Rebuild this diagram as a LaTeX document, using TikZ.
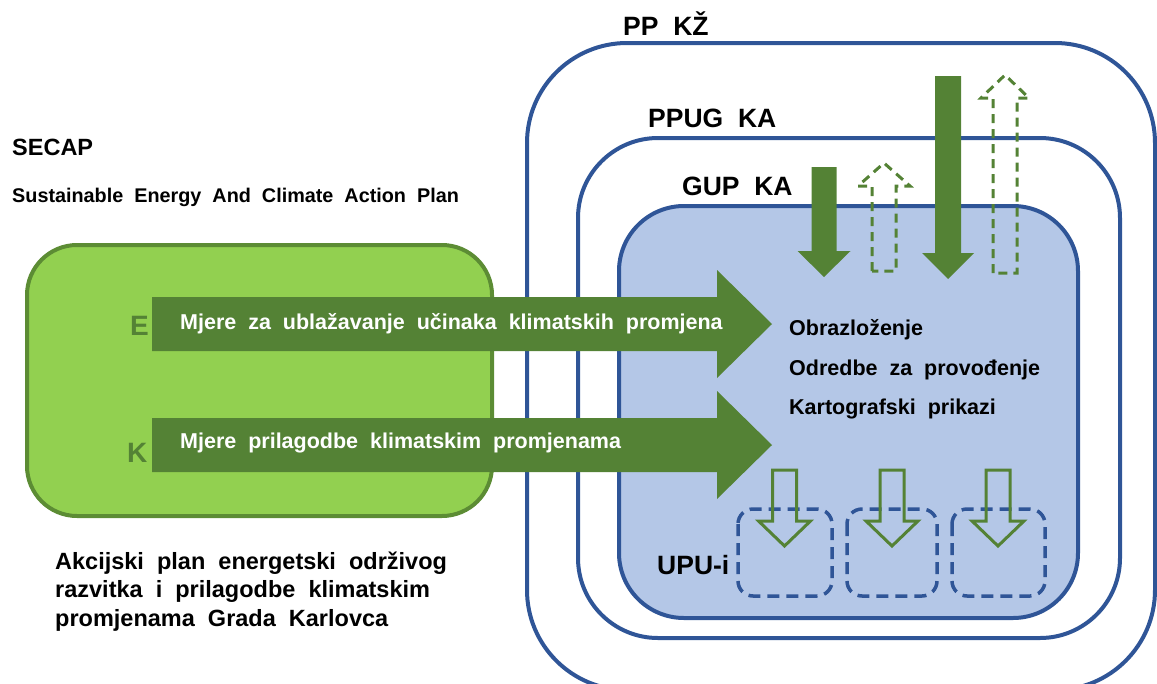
\documentclass[tikz,border=0pt]{standalone}
\usepackage{fontspec}
\setmainfont{Liberation Sans}[WordSpace=2]
\usetikzlibrary{positioning}

\definecolor{kablue}{RGB}{47,85,151}
\definecolor{kafill}{RGB}{180,199,231}
\definecolor{kagreen}{RGB}{84,130,53}
\definecolor{kalime}{RGB}{146,208,80}
\definecolor{kaedge}{RGB}{92,140,52}

\begin{document}
\begin{tikzpicture}[x=1pt, y=-1pt]
        \tikzstyle{plan}=[draw=kablue, line width=4pt]
        \tikzstyle{upu}=[draw=kablue, line width=3.5pt, dash pattern=on 12pt off 7pt, rounded corners=15pt]
        \tikzstyle{hollow}=[draw=kagreen, line width=3pt, line join=miter]
        \tikzstyle{dashy}=[hollow, dash pattern=on 9pt off 6pt]
        \tikzstyle{lbl}=[inner sep=0pt, anchor=base west]
        \tikzstyle{big}=[lbl, font=\fontsize{26.5}{30}\selectfont\bfseries]
        \tikzstyle{mid}=[lbl, font=\fontsize{21.5}{26}\selectfont\bfseries]
        \tikzstyle{sml}=[lbl, font=\fontsize{19.8}{24}\selectfont\bfseries]
        \tikzstyle{akc}=[lbl, font=\fontsize{23.5}{28}\selectfont\bfseries]
        \tikzstyle{arr}=[lbl, text=white, font=\fontsize{21.5}{26}\selectfont\bfseries]
        \tikzstyle{ek}=[lbl, text=kagreen, font=\fontsize{28}{32}\selectfont\bfseries]

        \useasboundingbox (0,0) rectangle (1157,683);

        % plan boxes
        \draw[plan, rounded corners=100pt] (527,43) rectangle (1155,690);
        \draw[plan, rounded corners=80pt] (578,138) rectangle (1120,638);
        \draw[plan, fill=kafill, rounded corners=65pt] (619,206) rectangle (1078,618);

        % SECAP box
        \draw[draw=kaedge, line width=4pt, fill=kalime, rounded corners=50pt] (27,245) rectangle (492,516);

        % measures
        \fill[kagreen] (152,297) -- (717,297) -- (717,270) -- (772,324) -- (717,378) -- (717,351) -- (152,351) -- cycle;
        \fill[kagreen] (152,418) -- (717,418) -- (717,391) -- (772,445) -- (717,499) -- (717,472) -- (152,472) -- cycle;

        % top-down and bottom-up
        \fill[kagreen] (811.5,167) -- (836.5,167) -- (836.5,251) -- (850.5,251) -- (824,277) -- (797.5,251) -- (811.5,251) -- cycle;
        \fill[kagreen] (935,76) -- (961,76) -- (961,253) -- (974,253) -- (948,279) -- (922,253) -- (935,253) -- cycle;
        \draw[dashy] (872,271) -- (872,186) -- (858,186) -- (884,163) -- (910,186) -- (896,186) -- (896,271) -- cycle;
        \draw[dashy] (993,273) -- (993,98) -- (981,98) -- (1005,75) -- (1029,98) -- (1017,98) -- (1017,273) -- cycle;

        % UPU-i
        \draw[upu] (738,509) rectangle (832,596);
        \draw[upu] (847,509) rectangle (937,596);
        \draw[upu] (952,509) rectangle (1045,596);
        \draw[hollow] (772.5,470) -- (796.5,470) -- (796.5,521) -- (810.5,521) -- (784.5,546) -- (758.5,521) -- (772.5,521) -- cycle;
        \draw[hollow] (880,470) -- (904,470) -- (904,521) -- (918,521) -- (892,546) -- (866,521) -- (880,521) -- cycle;
        \draw[hollow] (986,470) -- (1010,470) -- (1010,521) -- (1024,521) -- (998,546) -- (972,521) -- (986,521) -- cycle;

        % texts
        \node (ppkz) [big] at (623,35) {PP KŽ};
        \node (ppug) [big] at (648,127) {PPUG KA};
        \node (gup) [big] at (682,195) {GUP KA};
        \node (upui) [big] at (657,574) {UPU-i};

        \node (secap) [lbl, font=\fontsize{23.5}{28}\selectfont\bfseries] at (12,155) {SECAP};
        \node (secapfull) [sml, below=47pt of secap.base west, lbl] {Sustainable Energy And Climate Action Plan};

        \node (e) [ek] at (130,335) {E};
        \node (k) [ek] at (127,462) {K};
        \node (mitig) [arr] at (180,329) {Mjere za ublažavanje učinaka klimatskih promjena};
        \node (adapt) [arr] at (180,448) {Mjere prilagodbe klimatskim promjenama};

        \node (obr) [mid] at (789,335) {Obrazloženje};
        \node (odr) [mid, below=40pt of obr.base west, lbl] {Odredbe za provođenje};
        \node (kart) [mid, below=39pt of odr.base west, lbl] {Kartografski prikazi};

        \node (akc1) [akc] at (55,569) {Akcijski plan energetski održivog};
        \node (akc2) [akc, below=28.5pt of akc1.base west, lbl] {razvitka i prilagodbe klimatskim};
        \node (akc3) [akc, below=28.5pt of akc2.base west, lbl] {promjenama Grada Karlovca};
\end{tikzpicture}
\end{document}
